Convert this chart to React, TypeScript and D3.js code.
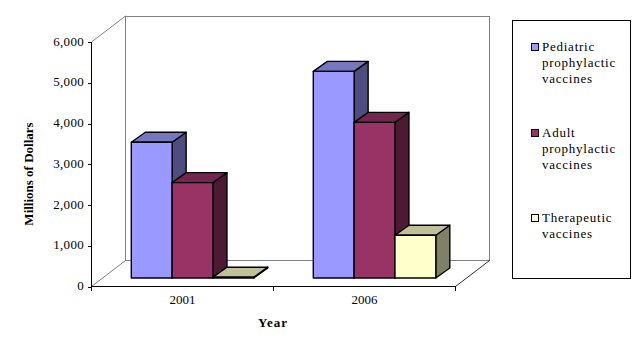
import React from "react";
import * as d3 from "d3";

const categories = ["2001", "2006"];
const seriesNames = ["Pediatric", "Adult", "Therapeutic"];
const pediatric = [3330, 5070];
const adult = [2340, 3820];
const therapeutic = [20, 1050];
const yTicks = [0, 1000, 2000, 3000, 4000, 5000, 6000];
const yTitle = "Millions of Dollars";
const xTitle = "Year";
const legendLines = [
  ["Pediatric", "prophylactic", "vaccines"],
  ["Adult", "prophylactic", "vaccines"],
  ["Therapeutic", "vaccines"],
];
const fills = ["#9999FF", "#993366", "#FFFFCC"];
const tops = ["#7777C0", "#732650", "#C0C099"];
const sides = ["#4D4D80", "#4D1A33", "#808066"];

const W = 639, H = 355;
const axisLeft = 91.5, axisRight = 455.5, axisBottom = 286.5, axisTop = 42;
const wallDx = 34, wallDy = -26;
const baseShift = -8.5, barDx = 14, barDy = -10;
const FONT = "'Liberation Serif', 'Times New Roman', serif";

export default function App() {
  const y = d3.scaleLinear().domain([0, 6000]).range([axisBottom, axisTop]);
  const x0 = d3.scaleBand().domain(categories).range([axisLeft, axisRight]);
  const x1 = d3.scaleBand().domain(seriesNames).range([0, 122.5]);
  const values = [pediatric, adult, therapeutic];
  const ox = 39.8;
  const line = d3.line();

  return (
    <svg width={W} height={H} style={{ position: "absolute", left: 0, top: 0, background: "#fff" }} fontFamily={FONT}>
      {/* back walls */}
      <path d={`M${axisLeft + wallDx},${axisBottom + wallDy}V${axisTop + wallDy}H${axisRight + wallDx}V${axisBottom + wallDy}H${axisLeft + wallDx}`} fill="none" stroke="#808080" strokeWidth={1} shapeRendering="crispEdges" />
      <path d={line([[axisLeft, axisTop], [axisLeft + wallDx, axisTop + wallDy]])!} stroke="#808080" fill="none" />
      <path d={line([[axisLeft, axisBottom], [axisLeft + wallDx, axisBottom + wallDy]])!} stroke="#808080" fill="none" />
      <path d={line([[axisRight, axisBottom], [axisRight + wallDx, axisBottom + wallDy]])!} stroke="#333" fill="none" />

      {/* bars */}
      {categories.map((c, ci) => (
        <g key={c}>
          {seriesNames.map((s, si) => {
            const xa = x0(c)! + ox + x1(s)!;
            const xb = xa + x1.bandwidth();
            const yb = axisBottom + baseShift;
            const yt = y(values[si][ci]) + baseShift;
            return (
              <g key={s} stroke="#000" strokeWidth={1.4} strokeLinejoin="round">
                <path d={`M${xb},${yt}L${xb + barDx},${yt + barDy}V${yb + barDy}L${xb},${yb}Z`} fill={sides[si]} />
                <path d={`M${xa},${yt}L${xa + barDx},${yt + barDy}H${xb + barDx}L${xb},${yt}Z`} fill={tops[si]} />
                <rect x={xa} y={yt} width={xb - xa} height={yb - yt} fill={fills[si]} />
              </g>
            );
          })}
        </g>
      ))}

      {/* axes */}
      <g stroke="#000" strokeWidth={1} shapeRendering="crispEdges">
        <line x1={axisLeft} x2={axisLeft} y1={y(6000)} y2={y(0) + 4} />
        <line x1={axisLeft} x2={axisRight} y1={axisBottom} y2={axisBottom} />
        {yTicks.map((t) => (
          <line key={t} x1={axisLeft - 4} x2={axisLeft} y1={Math.round(y(t)) + 0.5} y2={Math.round(y(t)) + 0.5} />
        ))}
        {[axisLeft, x0(categories[1])!, axisRight].map((v) => (
          <line key={v} x1={v} x2={v} y1={axisBottom} y2={axisBottom + 4} />
        ))}
      </g>
      <g fontSize={13} fill="#000" textAnchor="end" letterSpacing={0.3}>
        {yTicks.map((t) => (
          <text key={t} x={84} y={y(t) + 3.5}>{d3.format(",")(t)}</text>
        ))}
      </g>
      <g fontSize={13} fill="#000" textAnchor="middle">
        {categories.map((c) => (
          <text key={c} x={x0(c)! + x0.bandwidth() / 2} y={304}>{c}</text>
        ))}
      </g>
      <text x={273} y={327} textAnchor="middle" fontSize={13} fontWeight="bold" letterSpacing={1}>{xTitle}</text>
      <text transform="translate(33,174) rotate(-90)" textAnchor="middle" fontSize={13} fontWeight="bold">{yTitle}</text>

      {/* legend */}
      <rect x={512.5} y={20.5} width={118} height={258} fill="#fff" stroke="#000" shapeRendering="crispEdges" />
      {legendLines.map((lines, i) => {
        const ly = [47, 133, 218][i];
        return (
          <g key={i}>
            <rect x={531.5} y={ly - 3.5} width={7} height={7} fill={fills[i]} stroke="#000" shapeRendering="crispEdges" />
            {lines.map((t, j) => (
              <text key={j} x={542} y={ly + 4 + j * 16} fontSize={13} letterSpacing={0.75}>{t}</text>
            ))}
          </g>
        );
      })}
    </svg>
  );
}
